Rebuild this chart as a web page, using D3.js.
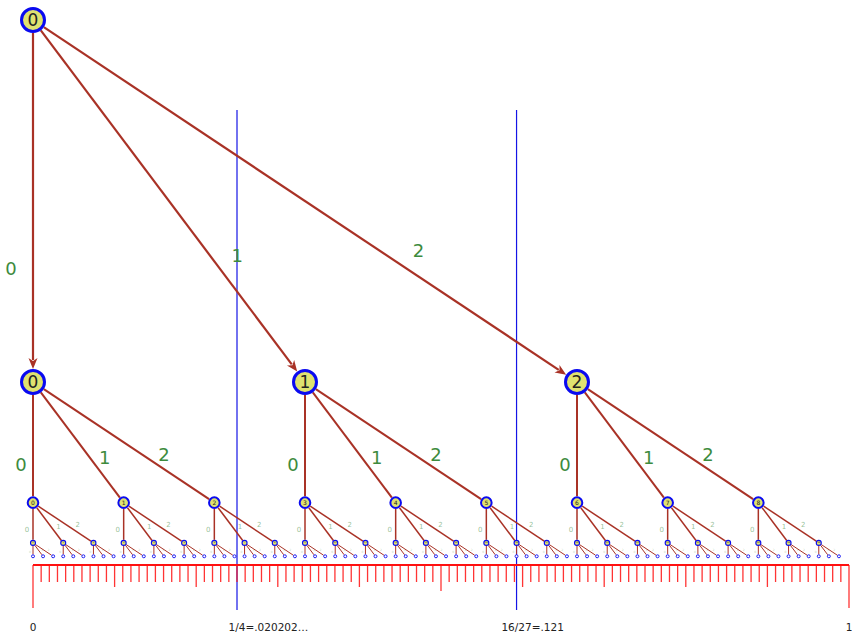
<!DOCTYPE html>
<html>
<head>
<meta charset="utf-8">
<script src="https://cdn.jsdelivr.net/npm/d3@7"></script>
<style>
  html, body { margin: 0; padding: 0; background: #fff; }
  svg { display: block; font-family: "DejaVu Sans", sans-serif; }
</style>
</head>
<body>
<svg id="chart" width="852" height="634"></svg>
<script>
// ---- data ----
const digits = ["0", "1", "2"];          // ternary digits / branch labels
const treeDepth = 4;                       // levels below the root
const markerValues = [1/4, 16/27];         // marked points on [0,1]
const markerFractions = ["1/4", "16/27"];
const markerExpansions = ["=.020202\u2026", "=.121"];
const endValues = [0, 1];
const endLabels = ["0", "1"];
const rulerTicks = d3.range(0, 101).map(i => i / 100);

// ---- styles per level ----
const nodeR      = [11.5, 11.5, 5.3, 2.5, 1.5];
const nodeStroke = [3, 3, 2, 1.1, 0.9];
const nodeFont   = [17, 17, 6, 2.2, 0];
const edgeW      = [2.2, 2, 1.5, 1];
const labFont    = [18, 18, 7, 3];
const labOff     = [22, 12, 6, 3];
const labOpacity = [1, 1, 0.55, 0.4];

const svg = d3.select("#chart");
const x = d3.scaleLinear().domain([0, 1]).range([33, 849]);
const y = d3.scaleLinear().domain([0, 1]).range([20, 563]);
const levelY = k => y(1 - Math.pow(3, -k));

// build ternary tree
function build(level, index) {
  const node = { level, index, value: index / Math.pow(3, level) };
  if (level < treeDepth) {
    node.children = digits.map((d, i) => build(level + 1, index * 3 + i));
  }
  return node;
}
const root = d3.hierarchy(build(0, 0));
const nodes = root.descendants();
const links = root.links();
nodes.forEach(n => { n.px = x(n.data.value); n.py = levelY(n.data.level); });

const edgeColor = "#a93226";
const green = "#3d8b3d";

// vertical marker lines (behind)
const gMark = svg.append("g");
markerValues.forEach((v) => {
  gMark.append("line")
    .attr("x1", x(v)).attr("x2", x(v))
    .attr("y1", 110).attr("y2", 610)
    .attr("stroke", "#1414e6").attr("stroke-width", 1.2);
});

// edges
const gEdge = svg.append("g");
links.forEach(l => {
  const s = l.source, t = l.target;
  const lev = s.data.level;
  const dx = t.px - s.px, dy = t.py - s.py;
  const len = Math.hypot(dx, dy);
  const ux = dx / len, uy = dy / len;
  const rs = nodeR[lev] + nodeStroke[lev] / 2;
  const rt = nodeR[lev + 1] + nodeStroke[lev + 1] / 2;
  const x1 = s.px + ux * rs, y1 = s.py + uy * rs;
  const ex = t.px - ux * rt, ey = t.py - uy * rt;
  const arrow = lev === 0;
  const al = 11, aw = 4.5;
  const x2 = arrow ? ex - ux * (al - 2) : ex, y2 = arrow ? ey - uy * (al - 2) : ey;
  gEdge.append("line")
    .attr("x1", x1).attr("y1", y1).attr("x2", x2).attr("y2", y2)
    .attr("stroke", edgeColor).attr("stroke-width", edgeW[lev]);
  if (arrow) {
    const bx = ex - ux * al, by = ey - uy * al;
    const nx = -uy, ny = ux;
    const mx = ex - ux * (al - 3), my = ey - uy * (al - 3);
    gEdge.append("path")
      .attr("d", `M${ex},${ey} L${bx + nx * aw},${by + ny * aw} L${mx},${my} L${bx - nx * aw},${by - ny * aw} Z`)
      .attr("fill", edgeColor);
  }
  // edge label
  const digit = t.data.index % 3;
  const tt = 0.686;
  const px = s.px + dx * tt, py = s.py + dy * tt;
  let ox, oy;
  if (digit === 0) { ox = -labOff[lev]; oy = 0; }
  else { ox = (dy / len) * labOff[lev]; oy = (-dx / len) * labOff[lev]; }
  svg.append("text")
    .attr("x", px + ox).attr("y", py + oy)
    .attr("text-anchor", "middle").attr("dominant-baseline", "central")
    .attr("font-size", labFont[lev]).attr("fill", green)
    .attr("fill-opacity", labOpacity[lev])
    .text(digits[digit]);
});

// nodes
const gNode = svg.append("g");
nodes.forEach(n => {
  const lev = n.data.level;
  gNode.append("circle")
    .attr("cx", n.px).attr("cy", n.py).attr("r", nodeR[lev])
    .attr("fill", lev === treeDepth ? "#ffffff" : "#dfe270")
    .attr("stroke", "#0a0af0").attr("stroke-width", nodeStroke[lev]);
  if (nodeFont[lev] > 0) {
    gNode.append("text")
      .attr("x", n.px).attr("y", n.py)
      .attr("text-anchor", "middle").attr("dominant-baseline", "central")
      .attr("font-size", nodeFont[lev]).attr("fill", "#222")
      .text(n.data.index);
  }
});

// ruler
const gR = svg.append("g");
const ry = 565;
gR.append("line").attr("x1", x(0)).attr("x2", x(1)).attr("y1", ry).attr("y2", ry)
  .attr("stroke", "#ff1010").attr("stroke-width", 2);
rulerTicks.forEach((v, i) => {
  const len = (i === 0 || i === 100) ? 43 : (i === 50 ? 26 : (i % 10 === 0 ? 22 : 17));
  gR.append("line")
    .attr("x1", x(v)).attr("x2", x(v)).attr("y1", ry).attr("y2", ry + len)
    .attr("stroke", "#ff1010").attr("stroke-width", 1.3).attr("stroke-opacity", 0.85);
});

// bottom labels
endValues.forEach((v, i) => {
  svg.append("text").attr("x", x(v)).attr("y", 631)
    .attr("text-anchor", "middle").attr("font-size", 10.5).attr("fill", "#222")
    .text(endLabels[i]);
});
markerValues.forEach((v, i) => {
  const t = svg.append("text").attr("y", 631).attr("font-size", 10.5).attr("fill", "#222");
  const f = t.append("tspan").text(markerFractions[i]);
  t.append("tspan").text(markerExpansions[i]);
  const fw = f.node().getComputedTextLength();
  t.attr("x", x(v) - fw / 2);
});
</script>
</body>
</html>
